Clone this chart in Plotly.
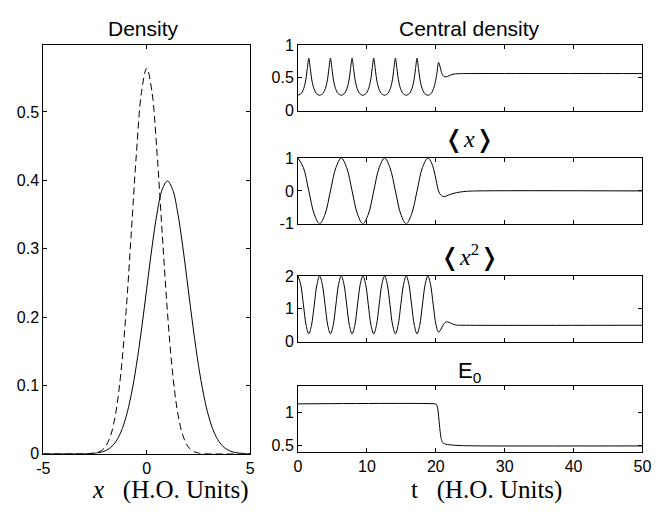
import plotly.graph_objects as go

# The page body has an 8px default margin; the figure is sized to fill the rest.
OFF = 8
W, H = 670 - OFF, 514 - OFF

# ---------------- data ----------------
x_pos = [-5.0, -4.75, -4.5, -4.25, -4.0, -3.75, -3.5, -3.25, -3.0, -2.75, -2.5, -2.25, -2.0, -1.75, -1.5, -1.25, -1.0,
         -0.75, -0.5, -0.25, 0.0, 0.25, 0.5, 0.75, 1.0, 1.25, 1.5, 1.75, 2.0, 2.25, 2.5, 2.75, 3.0, 3.25, 3.5, 3.75,
         4.0, 4.25, 4.5, 4.75, 5.0]
density_initial = [0, 0, 0, 0, 0, 0, 0, 0, 0.0001, 0.0003, 0.0011, 0.0036, 0.0103, 0.0264, 0.0595, 0.1183, 0.2076,
                   0.3215, 0.439, 0.530, 0.564, 0.530, 0.439, 0.3215, 0.2076, 0.1183, 0.0595, 0.0264, 0.0103, 0.0036,
                   0.0011, 0.0003, 0.0001, 0, 0, 0, 0, 0, 0, 0, 0]
density_final = [0, 0, 0, 0, 0, 0, 0, 0.0001, 0.0001, 0.0004, 0.0009, 0.0020, 0.0044, 0.0091, 0.0175, 0.0317, 0.0540,
                 0.0863, 0.1295, 0.1826, 0.2420, 0.3011, 0.3521, 0.3867, 0.399, 0.3867, 0.3521, 0.3011, 0.2420, 0.1826,
                 0.1295, 0.0863, 0.0540, 0.0317, 0.0175, 0.0091, 0.0044, 0.0020, 0.0009, 0.0004, 0.0001]

t_central = [0, 0.5, 0.9, 1.15, 1.35, 1.57, 1.79, 1.99, 2.24, 2.64,
             3.14, 3.64, 4.04, 4.29, 4.49, 4.71, 4.93, 5.13, 5.38, 5.78,
             6.28, 6.78, 7.18, 7.43, 7.63, 7.85, 8.07, 8.27, 8.52, 8.92,
             9.42, 9.92, 10.32, 10.57, 10.77, 10.99, 11.21, 11.41, 11.66, 12.06,
             12.57, 13.07, 13.47, 13.72, 13.92, 14.14, 14.36, 14.56, 14.81, 15.21,
             15.71, 16.21, 16.61, 16.86, 17.06, 17.28, 17.50, 17.70, 17.95, 18.35,
             18.85, 19.35, 19.75, 20.0, 20.2, 20.4, 20.65, 20.9, 21.2, 21.5, 22.0, 22.5, 23.2, 24.0, 50.0]
central_density = [0.235, 0.265, 0.36, 0.48, 0.64, 0.80, 0.64, 0.48, 0.36, 0.265,
                   0.235, 0.265, 0.36, 0.48, 0.64, 0.80, 0.64, 0.48, 0.36, 0.265,
                   0.235, 0.265, 0.36, 0.48, 0.64, 0.80, 0.64, 0.48, 0.36, 0.265,
                   0.235, 0.265, 0.36, 0.48, 0.64, 0.80, 0.64, 0.48, 0.36, 0.265,
                   0.235, 0.265, 0.36, 0.48, 0.64, 0.80, 0.64, 0.48, 0.36, 0.265,
                   0.235, 0.265, 0.36, 0.48, 0.64, 0.80, 0.64, 0.48, 0.36, 0.265,
                   0.235, 0.265, 0.36, 0.47, 0.60, 0.735, 0.66, 0.56, 0.52, 0.515, 0.535, 0.555, 0.563, 0.565, 0.565]

t_x = [0, 0.79, 1.57, 2.36, 3.14, 3.93, 4.71, 5.50, 6.28, 7.07, 7.85, 8.64, 9.42, 10.21, 11.00, 11.78,
       12.57, 13.35, 14.14, 14.92, 15.71, 16.49, 17.28, 18.06, 18.85, 19.37, 19.9, 20.15, 20.4, 20.7, 21.0,
       21.3, 21.8, 22.5, 23.5, 24.5, 26.0, 50.0]
mean_x = [1, 0.707, 0, -0.707, -1, -0.707, 0, 0.707, 1, 0.707, 0, -0.707, -1, -0.707, 0, 0.707,
          1, 0.707, 0, -0.707, -1, -0.707, 0, 0.707, 1, 0.86, 0.48, 0.22, 0.0, -0.12, -0.165,
          -0.17, -0.13, -0.08, -0.035, -0.012, 0, 0]

t_x2 = [0, 0.39, 0.79, 1.18, 1.57, 1.96, 2.36, 2.75, 3.14, 3.53, 3.93, 4.32, 4.71, 5.11, 5.50, 5.89,
        6.28, 6.68, 7.07, 7.46, 7.85, 8.25, 8.64, 9.03, 9.42, 9.82, 10.21, 10.60, 11.00, 11.39, 11.78, 12.17,
        12.57, 12.96, 13.35, 13.74, 14.14, 14.53, 14.92, 15.32, 15.71, 16.10, 16.49, 16.89, 17.28, 17.67, 18.06, 18.46,
        18.85, 19.24, 19.63, 20.03, 20.4, 20.75, 21.1, 21.5, 21.9, 22.4, 23.0, 24.0, 50.0]
mean_x2 = [2, 1.74, 1.12, 0.50, 0.24, 0.50, 1.12, 1.74, 2, 1.74, 1.12, 0.50, 0.24, 0.50, 1.12, 1.74,
           2, 1.74, 1.12, 0.50, 0.24, 0.50, 1.12, 1.74, 2, 1.74, 1.12, 0.50, 0.24, 0.50, 1.12, 1.74,
           2, 1.74, 1.12, 0.50, 0.24, 0.50, 1.12, 1.74, 2, 1.74, 1.12, 0.50, 0.24, 0.50, 1.12, 1.74,
           2, 1.74, 1.12, 0.52, 0.29, 0.38, 0.52, 0.60, 0.59, 0.54, 0.505, 0.5, 0.5]

t_e0 = [0, 19.9, 20.1, 20.3, 20.45, 20.6, 20.75, 20.9, 21.1, 21.5, 22.5, 24.0, 27.0, 50.0]
e0 = [1.13, 1.13, 1.12, 1.05, 0.90, 0.74, 0.62, 0.56, 0.53, 0.515, 0.502, 0.494, 0.49, 0.49]

density_ticks = [0, 0.1, 0.2, 0.3, 0.4, 0.5]
density_ticktext = ["0", "0.1", "0.2", "0.3", "0.4", "0.5"]
x_ticks = [-5, 0, 5]
x_ticktext = ["-5", "0", "5"]
t_ticks = [0, 10, 20, 30, 40, 50]
t_ticktext = ["0", "10", "20", "30", "40", "50"]

# ---------------- layout helpers (reference pixel -> paper) ----------------
def px_x(p):
    return (p - OFF) / W

def px_y(p):
    return 1 - (p - OFF) / H

SANS = "Liberation Sans, Arial, Helvetica, sans-serif"
SERIF_FAM = "Liberation Serif, Times New Roman, serif"
BRACKET_FAM = "Liberation Serif, DejaVu Sans, serif"
TICKFONT = dict(family=SANS, size=16, color="black")
TITLEFONT = dict(family=SANS, size=21, color="black")
XLABELFONT = dict(family=SERIF_FAM, size=25, color="black")

fig = go.Figure()

fig.add_trace(go.Scatter(x=x_pos, y=density_initial, mode="lines", xaxis="x", yaxis="y",
                         line=dict(color="black", width=1, dash="7px,4px", shape="spline")))
fig.add_trace(go.Scatter(x=x_pos, y=density_final, mode="lines", xaxis="x", yaxis="y",
                         line=dict(color="black", width=1, shape="spline")))
fig.add_trace(go.Scatter(x=t_central, y=central_density, mode="lines", xaxis="x2", yaxis="y2",
                         line=dict(color="black", width=1, shape="spline", smoothing=0.8)))
fig.add_trace(go.Scatter(x=t_x, y=mean_x, mode="lines", xaxis="x3", yaxis="y3",
                         line=dict(color="black", width=1, shape="spline", smoothing=1)))
fig.add_trace(go.Scatter(x=t_x2, y=mean_x2, mode="lines", xaxis="x4", yaxis="y4",
                         line=dict(color="black", width=1, shape="spline", smoothing=1)))
fig.add_trace(go.Scatter(x=t_e0, y=e0, mode="lines", xaxis="x5", yaxis="y5",
                         line=dict(color="black", width=1, shape="spline", smoothing=0.5)))

common = dict(showline=True, linecolor="black", linewidth=1, mirror="ticks", ticks="inside",
              ticklen=4, tickcolor="black", showgrid=False, zeroline=False, tickfont=TICKFONT)

left_dom_x = [px_x(37), px_x(249)]
right_dom_x = [px_x(298), px_x(651)]
panels = [(38, 106), (155, 223), (277, 345), (391, 459)]

layout = dict(
    width=W, height=H, margin=dict(l=0, r=0, t=0, b=0, pad=0),
    paper_bgcolor="white", plot_bgcolor="white", showlegend=False,
    xaxis=dict(domain=left_dom_x, range=[-5, 5], tickvals=x_ticks, ticktext=x_ticktext, anchor="y", **common),
    yaxis=dict(domain=[px_y(461), px_y(38)], range=[0, 0.598], tickvals=density_ticks,
               ticktext=density_ticktext, anchor="x", **common),
)
yspecs = [
    dict(range=[0, 1], tickvals=[0, 0.5, 1], ticktext=["0", "0.5", "1"]),
    dict(range=[-1, 1], tickvals=[-1, 0, 1], ticktext=["-1", "0", "1"]),
    dict(range=[0, 2], tickvals=[0, 1, 2], ticktext=["0", "1", "2"]),
    dict(range=[0.4, 1.4], tickvals=[0.5, 1], ticktext=["0.5", "1"]),
]
for i, (top, bot) in enumerate(panels):
    n = i + 2
    last = (i == 3)
    xa = dict(domain=right_dom_x, range=[0, 50], tickvals=t_ticks, anchor=f"y{n}", **common)
    if last:
        xa["ticktext"] = t_ticktext
    else:
        xa["showticklabels"] = False
    layout[f"xaxis{n}"] = xa
    layout[f"yaxis{n}"] = dict(domain=[px_y(bot), px_y(top)], anchor=f"x{n}", **yspecs[i], **common)

fig.update_layout(**layout)

def ann(text, x, cy, font, xanchor="center", yanchor="middle"):
    fig.add_annotation(text=text, x=px_x(x), y=px_y(cy), xref="paper", yref="paper",
                       xanchor=xanchor, yanchor=yanchor, showarrow=False, font=font, borderpad=0)

ann("Density", 140, 21, TITLEFONT)
ann("Central density", 474, 21, TITLEFONT)
ann("❬<i>x</i>❭", 474, 136, dict(family=BRACKET_FAM, size=24, color="black"))
ann("❬<i>x</i><sup>2</sup>❭", 474, 256, dict(family=BRACKET_FAM, size=24, color="black"))
ann("E<sub>0</sub>", 474, 376, dict(family=SANS, size=22, color="black"))
ann("<i>x</i>   (H.O. Units)", 86, 514, XLABELFONT, xanchor="left", yanchor="bottom")
ann("t   (H.O. Units)", 413, 514, XLABELFONT, xanchor="left", yanchor="bottom")

fig.write_html("out.html")
